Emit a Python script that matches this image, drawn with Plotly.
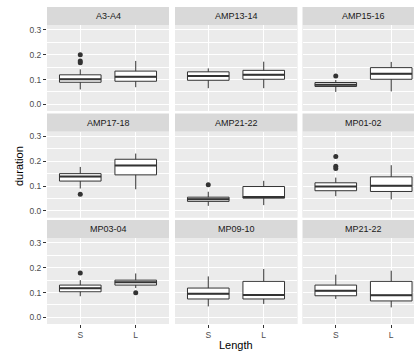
import plotly.graph_objects as go

# Facet panels (row-major, 3 per row) and the two length groups
panels = ["A3-A4", "AMP13-14", "AMP15-16",
          "AMP17-18", "AMP21-22", "MP01-02",
          "MP03-04", "MP09-10", "MP21-22"]
lengths = ["S", "L"]

# Box statistics per panel: [S, L]
lower = [[0.060, 0.069], [0.065, 0.065], [0.050, 0.052],
         [0.090, 0.087], [0.020, 0.023], [0.059, 0.046],
         [0.085, 0.118], [0.044, 0.054], [0.074, 0.040]]
q1 = [[0.089, 0.093], [0.097, 0.101], [0.072, 0.101],
      [0.120, 0.145], [0.038, 0.051], [0.081, 0.078],
      [0.103, 0.130], [0.074, 0.074], [0.087, 0.066]]
median = [[0.101, 0.111], [0.114, 0.119], [0.079, 0.123],
          [0.138, 0.183], [0.047, 0.056], [0.098, 0.101],
          [0.117, 0.141], [0.095, 0.090], [0.107, 0.089]]
q3 = [[0.119, 0.134], [0.131, 0.137], [0.088, 0.148],
      [0.150, 0.208], [0.055, 0.098], [0.113, 0.137],
      [0.130, 0.150], [0.118, 0.145], [0.130, 0.145]]
upper = [[0.141, 0.175], [0.145, 0.172], [0.098, 0.171],
         [0.177, 0.231], [0.077, 0.121], [0.134, 0.184],
         [0.150, 0.177], [0.165, 0.195], [0.172, 0.188]]
outliers = [[[0.200, 0.175, 0.168], []], [[], []], [[0.114], []],
            [[0.067], []], [[0.105], []], [[0.219, 0.180, 0.171], []],
            [[0.179], [0.099]], [[], []], [[], []]]

y_ticks = [0.0, 0.1, 0.2, 0.3]
y_range = [-0.027, 0.32]

W, H = 414, 354
BOX_W = 0.75
INK = "#333333"
PANEL_BG = "#EBEBEB"
STRIP_BG = "#D9D9D9"
FONT = "Liberation Sans"

# Panel geometry in pixels (left, right) per column and (top, bottom) per row
col_px = [(47, 169), (175, 297.4), (302.5, 424.5)]
row_px = [(25, 111), (131.5, 217.5), (238, 324)]
strip_h = 18
unit_px = (col_px[0][1] - col_px[0][0]) / 2.2

fig = go.Figure()
layout = {}
shapes = []
annotations = []

for k, name in enumerate(panels):
    r, c = divmod(k, 3)
    idx = "" if k == 0 else str(k + 1)
    xa, ya = "x" + idx, "y" + idx
    x0p, x1p = col_px[c]
    y0p, y1p = row_px[r]
    x1_clip = min(x1p, W)
    x_hi = 0.4 + (x1_clip - x0p) / unit_px

    layout["xaxis" + idx] = dict(
        domain=[x0p / W, x1_clip / W], anchor=ya, range=[0.4, x_hi],
        tickvals=[1, 2], ticktext=lengths if r == 2 else ["", ""],
        showticklabels=(r == 2), ticks="outside" if r == 2 else "",
        ticklen=3, tickwidth=1, tickcolor=INK,
        tickfont=dict(size=8.5, color="#4D4D4D", family=FONT),
        showgrid=True, gridcolor="white", gridwidth=1,
        zeroline=False, showline=False, fixedrange=True,
    )
    layout["yaxis" + idx] = dict(
        domain=[1 - y1p / H, 1 - y0p / H], anchor=xa, range=y_range,
        tickvals=y_ticks, ticktext=[f"{v:.1f}" for v in y_ticks],
        showticklabels=(c == 0), ticks="outside" if c == 0 else "",
        ticklen=3, tickwidth=1, tickcolor=INK,
        tickfont=dict(size=8.5, color="#4D4D4D", family=FONT),
        showgrid=True, gridcolor="white", gridwidth=1,
        minor=dict(dtick=0.05, tick0=0.05, showgrid=True,
                   gridcolor="white", gridwidth=0.5),
        zeroline=False, showline=False, fixedrange=True,
    )

    # panel background
    shapes.append(dict(type="rect", xref="paper", yref="paper",
                       x0=x0p / W, x1=x1_clip / W,
                       y0=1 - y1p / H, y1=1 - y0p / H,
                       fillcolor=PANEL_BG, line=dict(width=0), layer="below"))
    # facet strip
    shapes.append(dict(type="rect", xref="paper", yref="paper",
                       x0=x0p / W, x1=x1_clip / W,
                       y0=1 - y0p / H, y1=1 - (y0p - strip_h) / H,
                       fillcolor=STRIP_BG, line=dict(width=0), layer="below"))
    annotations.append(dict(text=name, xref="paper", yref="paper",
                            x=(x0p + x1p) / 2 / W,
                            y=1 - (y0p - strip_h / 2) / H,
                            xanchor="center", yanchor="middle", showarrow=False,
                            font=dict(size=9, color="#1A1A1A", family=FONT)))

    for j, lab in enumerate(lengths):
        xpos = j + 1
        fig.add_trace(go.Box(
            x=[xpos], q1=[q1[k][j]], median=[median[k][j]], q3=[q3[k][j]],
            lowerfence=[lower[k][j]], upperfence=[upper[k][j]],
            width=BOX_W, whiskerwidth=0, fillcolor="white",
            line=dict(color=INK, width=1), boxpoints=False,
            xaxis=xa, yaxis=ya, showlegend=False, hoverinfo="skip",
        ))
        # heavier median bar
        fig.add_trace(go.Scatter(
            x=[xpos - BOX_W / 2, xpos + BOX_W / 2],
            y=[median[k][j], median[k][j]], mode="lines",
            line=dict(color=INK, width=2), xaxis=xa, yaxis=ya,
            showlegend=False, hoverinfo="skip",
        ))
        if outliers[k][j]:
            fig.add_trace(go.Scatter(
                x=[xpos] * len(outliers[k][j]), y=outliers[k][j],
                mode="markers", marker=dict(color=INK, size=5),
                xaxis=xa, yaxis=ya, showlegend=False, hoverinfo="skip",
            ))

annotations.append(dict(text="duration", xref="paper", yref="paper",
                        x=19 / W, y=1 - 166 / H, textangle=-90,
                        xanchor="center", yanchor="middle", showarrow=False,
                        font=dict(size=11, color="#000000", family=FONT)))
annotations.append(dict(text="Length", xref="paper", yref="paper",
                        x=235.5 / W, y=1 - 345 / H,
                        xanchor="center", yanchor="middle", showarrow=False,
                        font=dict(size=11, color="#000000", family=FONT)))

fig.update_layout(
    width=W, height=H, margin=dict(l=0, r=0, t=0, b=0),
    paper_bgcolor="white", plot_bgcolor=PANEL_BG,
    shapes=shapes, annotations=annotations, showlegend=False,
    **layout,
)

fig.write_html("out.html", config={"displayModeBar": False})
